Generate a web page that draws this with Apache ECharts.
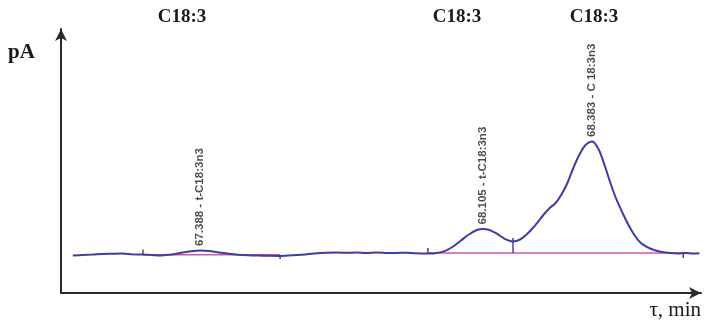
<!DOCTYPE html>
<html>
<head>
<meta charset="utf-8">
<title>Chromatogram C18:3</title>
<script src="https://cdn.jsdelivr.net/npm/echarts@6/dist/echarts.min.js"></script>
<style>
  html, body { margin: 0; padding: 0; background: #ffffff; }
  #chart { width: 709px; height: 325px; }
</style>
</head>
<body>
<div id="chart"></div>
<script>
// Detector signal (pA) against retention time (min)
const signalTimes = [
  67.065, 67.090, 67.115, 67.140, 67.165, 67.190, 67.215, 67.240, 67.265, 67.290,
  67.315, 67.340, 67.365, 67.388, 67.410, 67.435, 67.460, 67.485, 67.510, 67.535,
  67.560, 67.585, 67.610, 67.635, 67.660, 67.685, 67.710, 67.735, 67.760, 67.785,
  67.810, 67.835, 67.860, 67.885, 67.910, 67.935, 67.960, 67.985, 68.010, 68.030,
  68.050, 68.070, 68.090, 68.105, 68.120, 68.140, 68.160, 68.175, 68.182, 68.200,
  68.215, 68.230, 68.245, 68.260, 68.275, 68.290, 68.305, 68.320, 68.335, 68.350,
  68.365, 68.383, 68.400, 68.415, 68.430, 68.445, 68.460, 68.475, 68.490, 68.505,
  68.520, 68.540, 68.560, 68.580, 68.600, 68.620, 68.640, 68.655
];
const signalValues = [
  14.20, 14.39, 14.55, 14.77, 14.85, 14.92, 14.70, 14.55, 14.39, 14.24,
  14.55, 15.23, 15.83, 16.10, 15.91, 15.38, 14.85, 14.47, 14.28, 14.17,
  14.09, 14.02, 14.17, 14.39, 14.70, 15.08, 15.23, 15.30, 15.23, 15.34,
  15.19, 15.30, 15.19, 15.15, 15.27, 15.04, 14.96, 15.08, 15.98, 17.61,
  19.89, 22.16, 23.86, 24.24, 23.94, 22.54, 20.64, 19.70, 19.51, 20.27,
  21.97, 24.24, 26.89, 29.73, 32.20, 34.09, 37.31, 41.67, 47.35, 52.27,
  55.87, 57.39, 54.17, 48.11, 41.29, 35.23, 30.30, 25.76, 21.97, 19.13,
  17.61, 16.29, 15.53, 15.15, 15.00, 15.15, 14.92, 15.08
];

// Identified peaks
const peakTimes = [67.388, 68.105, 68.383];
const peakHeights = [16.10, 24.24, 57.39];
const peakNames = ['t-C18:3n3', 't-C18:3n3', 'C 18:3n3'];

// Integration baselines: [start time, start value, end time, end value]
const baselines = [
  [67.243, 14.50, 67.591, 14.50],
  [67.966, 15.15, 68.614, 15.15]
];

// Integration event ticks: [time, from value, to value]
const eventTicks = [
  [67.243, 14.50, 16.48],
  [67.591, 14.50, 12.88],
  [67.966, 15.10, 17.05],
  [68.182, 15.15, 20.80],
  [68.614, 15.15, 13.30]
];

// Group headings above the trace
const groupLabels = ['C18:3', 'C18:3', 'C18:3'];

const traceData = signalTimes.map((t, i) => [t, signalValues[i]]);
const peakData = peakTimes.map((t, i) => ({ value: [t, peakHeights[i]], name: peakNames[i] }));

const baselineSeries = baselines.map(b => ({
  type: 'line',
  data: [[b[0], b[1]], [b[2], b[3]]],
  symbol: 'none',
  silent: true,
  z: 2,
  lineStyle: { color: '#d455a8', width: 1.6 }
}));

const chart = echarts.init(document.getElementById('chart'), null, { renderer: 'canvas' });

const axisLine = {
  show: true,
  symbol: ['none', 'arrow'],
  symbolSize: [9, 12],
  lineStyle: { color: '#2b2b2b', width: 2 }
};

const headingStyle = {
  fontFamily: 'Liberation Serif', fontSize: 19, fontWeight: 'bold', fill: '#1a1a1a',
  align: 'center', verticalAlign: 'middle'
};

chart.setOption({
  animation: false,
  backgroundColor: '#ffffff',
  grid: { left: 61, right: 8, top: 29, bottom: 32 },
  xAxis: {
    type: 'value',
    min: 67.035,
    max: 68.659,
    axisLine: axisLine,
    axisTick: { show: false },
    axisLabel: { show: false },
    splitLine: { show: false }
  },
  yAxis: {
    type: 'value',
    min: 0,
    max: 100,
    axisLine: axisLine,
    axisTick: { show: false },
    axisLabel: { show: false },
    splitLine: { show: false }
  },
  graphic: [
    { type: 'text', left: 8, top: 42,
      style: { text: 'pA', fontFamily: 'Liberation Serif', fontSize: 21, fontWeight: 'bold', fill: '#1a1a1a' } },
    { type: 'text', right: 8, top: 300,
      style: { text: 'τ, min', fontFamily: 'Liberation Serif', fontSize: 21, fill: '#1a1a1a' } },
    { type: 'text', x: 182, y: 17, style: Object.assign({ text: groupLabels[0] }, headingStyle) },
    { type: 'text', x: 457, y: 17, style: Object.assign({ text: groupLabels[1] }, headingStyle) },
    { type: 'text', x: 594, y: 17, style: Object.assign({ text: groupLabels[2] }, headingStyle) }
  ],
  series: [
    ...baselineSeries,
    {
      type: 'custom',
      silent: true,
      z: 3,
      data: eventTicks,
      renderItem: function (params, api) {
        const p1 = api.coord([api.value(0), api.value(1)]);
        const p2 = api.coord([api.value(0), api.value(2)]);
        return {
          type: 'line',
          shape: { x1: p1[0], y1: p1[1], x2: p2[0], y2: p2[1] },
          style: { stroke: '#5a2a7a', lineWidth: 1.4 }
        };
      }
    },
    {
      type: 'line',
      data: traceData,
      symbol: 'none',
      smooth: 0.3,
      z: 4,
      lineStyle: { color: '#3d3ea2', width: 2 }
    },
    {
      type: 'scatter',
      data: peakData,
      symbolSize: 1,
      itemStyle: { color: 'rgba(0,0,0,0)' },
      z: 5,
      label: {
        show: true,
        position: 'top',
        distance: 4,
        rotate: 90,
        align: 'left',
        verticalAlign: 'middle',
        fontFamily: 'Liberation Sans',
        fontSize: 11.5,
        fontWeight: 'bold',
        color: '#1c1c1c',
        formatter: function (p) {
          return p.value[0].toFixed(3) + ' - ' + p.name;
        }
      }
    }
  ]
});
</script>
</body>
</html>
